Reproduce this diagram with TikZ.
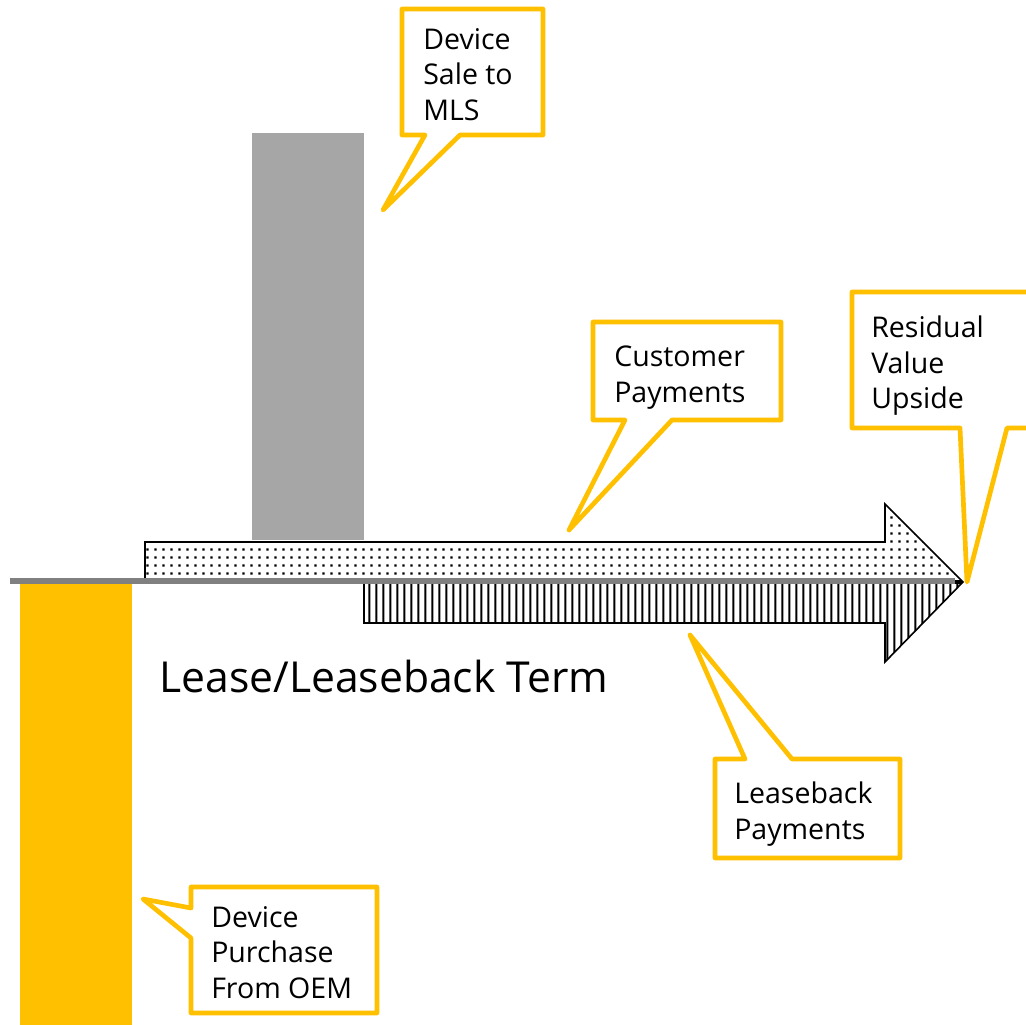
\documentclass[tikz,border=0pt]{standalone}
\usepackage{fontspec}
\setmainfont{Open Sans}
\usetikzlibrary{patterns.meta}
\definecolor{calloutyellow}{HTML}{FFC000}
\definecolor{bargray}{HTML}{A6A6A6}
\definecolor{axisgray}{HTML}{808080}

% fill patterns for the two flow arrows
\tikzdeclarepattern{name=flowdots, type=uncolored,
  bottom left={(0pt,0pt)}, top right={(6pt,6pt)}, tile size={(6pt,6pt)},
  code={\fill (2pt,2pt) rectangle (3.8pt,3.8pt);}}
\tikzdeclarepattern{name=flowbars, type=uncolored,
  bottom left={(0pt,0pt)}, top right={(5.5pt,5.5pt)}, tile size={(5.5pt,5.5pt)},
  code={\fill (2pt,0pt) rectangle (3.6pt,5.5pt);}}

\tikzset{
  callout/.style={draw=calloutyellow, line width=3.5pt, line join=round, fill=white},
  callouttext/.style={anchor=north west, inner sep=0pt, align=left,
    font=\fontsize{21.4}{26.6}\selectfont},
  flowarrow/.style={draw=black, line width=1.2pt, line join=miter},
}

\begin{document}
\begin{tikzpicture}[x=0.75pt, y=-0.75pt]
\clip (0,0) rectangle (1026,1025);
\fill[white] (0,0) rectangle (1026,1025);

% cash-flow bars
\fill[bargray] (252,133) rectangle (364,540);
\fill[calloutyellow] (20,584) rectangle (132,1025);

% customer payments (upper half arrow)
\draw[flowarrow, pattern={flowdots}]
  (145,580) -- (145,542) -- (885,542) -- (885,504) -- (962,581) -- cycle;
% leaseback payments (lower half arrow)
\draw[flowarrow, pattern={flowbars}]
  (364,583) -- (962,583) -- (885,662) -- (885,623) -- (364,623) -- cycle;

% time axis
\draw[axisgray, line width=4.5pt] (10,581) -- (955,581);

\node[anchor=base west, inner sep=0pt, font=\fontsize{32}{38}\selectfont]
  (term) at (159,692) {Lease/Leaseback Term};

% callouts
\draw[callout] (402,9) -- (543,9) -- (543,135) -- (460,135) -- (383,210)
  -- (425,135) -- (402,135) -- cycle;
\node[callouttext] (mls) at (423,28) {Device\\Sale to\\MLS};

\draw[callout] (593,322) -- (781,322) -- (781,420) -- (672,420) -- (569,530)
  -- (625,420) -- (593,420) -- cycle;
\node[callouttext] (cust) at (614,346) {Customer\\Payments};

\draw[callout] (852,292) -- (1040,292) -- (1040,428) -- (1007,428) -- (967,582)
  -- (960,428) -- (852,428) -- cycle;
\node[callouttext] (resid) at (871,316) {Residual\\Value\\Upside};

\draw[callout] (715,759) -- (745,759) -- (690,635) -- (792,759) -- (900,759)
  -- (900,858) -- (715,858) -- cycle;
\node[callouttext] (lback) at (734,782) {Leaseback\\Payments};

\draw[callout] (191,887) -- (377,887) -- (377,1013) -- (191,1013) -- (191,938)
  -- (143,899) -- (191,908) -- cycle;
\node[callouttext] (oem) at (211,906) {Device\\Purchase\\From OEM};
\end{tikzpicture}
\end{document}
